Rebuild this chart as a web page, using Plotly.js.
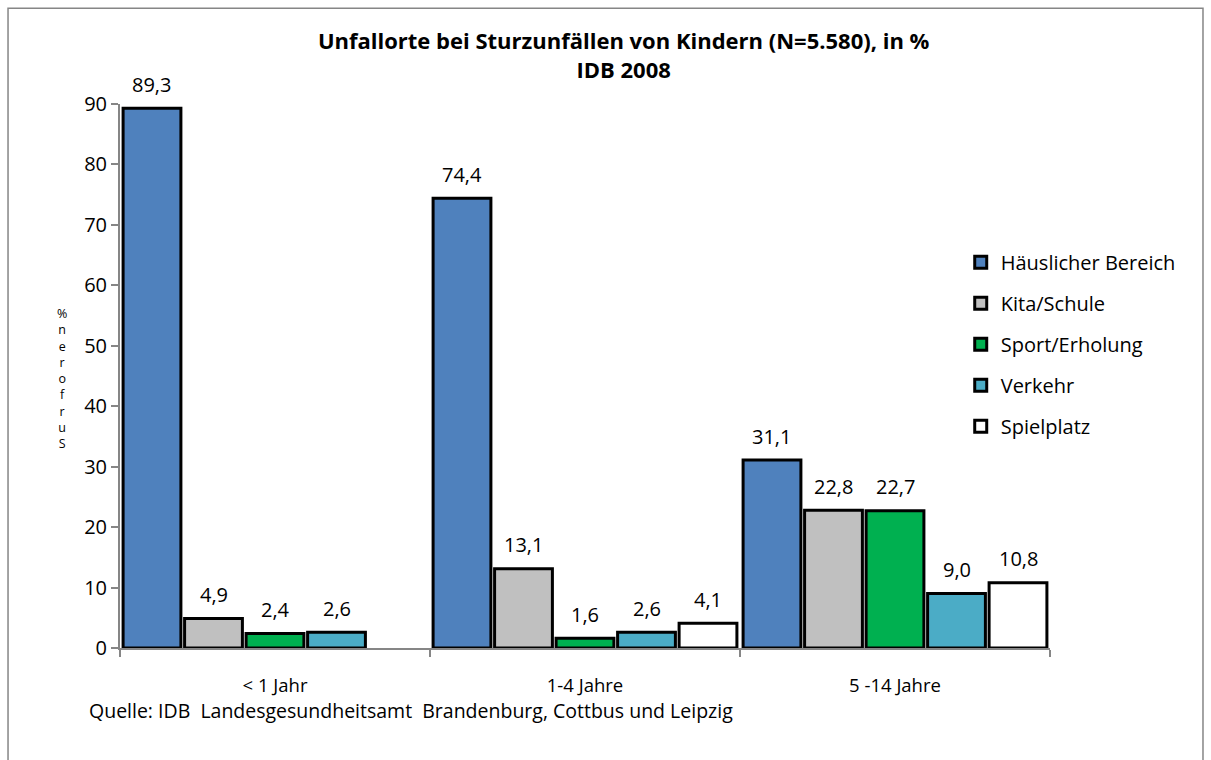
<!DOCTYPE html>
<html><head><meta charset="utf-8">
<script src="https://cdn.plot.ly/plotly-3.0.1.min.js"></script>
<style>body{margin:0;background:#fff}#c{width:1211px;height:760px}</style>
</head><body><div id="c"></div>
<script>
const categories = ['< 1 Jahr', '1-4 Jahre', '5 -14 Jahre'];
const seriesNames = ['Häuslicher Bereich', 'Kita/Schule', 'Sport/Erholung', 'Verkehr', 'Spielplatz'];
const haeuslich = [89.3, 74.4, 31.1];
const kita = [4.9, 13.1, 22.8];
const sport = [2.4, 1.6, 22.7];
const verkehr = [2.6, 2.6, 9.0];
const spielplatz = [null, 4.1, 10.8];
const yTitleLetters = ['%', 'n', 'e', 'r', 'o', 'f', 'r', 'u', 'S'];
const colors = ['#4f81bd', '#c0c0c0', '#00b050', '#4bacc6', '#ffffff'];
const values = [haeuslich, kita, sport, verkehr, spielplatz];
const fnt = '"Open Sans", "Liberation Sans", sans-serif';
const bargap = 0.008, bargroupgap = 0.06;

const traces = values.map((v, i) => ({
  type: 'bar', name: seriesNames[i], x: categories, y: v, legendgroup: 'g' + i,
  marker: {color: colors[i], line: {color: '#000', width: 3}},
  hoverinfo: 'none'
}));

// value labels placed above each bar, positioned via the category axis
const nS = values.length, slot = (1 - bargap) / nS;
const annotations = [];
values.forEach((v, i) => {
  v.forEach((d, j) => {
    if (d == null) return;
    annotations.push({x: j - (1 - bargap) / 2 + slot * (i + 0.5), y: d, xref: 'x', yref: 'y',
      text: d.toFixed(1).replace('.', ','), showarrow: false, yanchor: 'middle', yshift: 24,
      font: {size: 20, family: fnt, color: '#000'}});
  });
});
annotations.push({text: 'Quelle: IDB  Landesgesundheitsamt  Brandenburg, Cottbus und Leipzig', xref: 'paper', yref: 'paper',
  x: -0.035, y: -0.114, xanchor: 'left', yanchor: 'middle', showarrow: false,
  font: {size: 19.5, family: fnt}});
annotations.push({text: yTitleLetters.join('<br>'), xref: 'paper', yref: 'paper', x: -0.062, y: (648 - 378) / 544,
  xanchor: 'center', yanchor: 'middle', showarrow: false, align: 'center', font: {size: 12.5, family: fnt}});

const layout = {
  width: 1211, height: 760,
  margin: {l: 120, r: 161, t: 104, b: 112},
  paper_bgcolor: '#fff', plot_bgcolor: '#fff',
  font: {family: fnt, color: '#000'},
  barmode: 'group', bargap: bargap, bargroupgap: bargroupgap,
  title: {text: '<b>Unfallorte bei Sturzunfällen von Kindern (N=5.580), in %<br>IDB 2008</b>',
    font: {size: 22, family: fnt}, x: 0.515, xanchor: 'center', y: 0.935, yanchor: 'top'},
  xaxis: {type: 'category', range: [-0.5, 2.5], showline: true, linecolor: '#868686', linewidth: 2,
    ticks: 'outside', ticklen: 7, tickcolor: '#868686', tickwidth: 2,
    tickson: 'boundaries', tickfont: {size: 18.5, family: fnt}, ticklabelstandoff: 20, showgrid: false},
  yaxis: {range: [0, 90], dtick: 10, showline: true, linecolor: '#868686', linewidth: 2,
    ticks: 'outside', ticklen: 7, tickcolor: '#868686', tickwidth: 2,
    tickfont: {size: 20, family: fnt}, showgrid: false, zeroline: false},
  legend: {x: 0.904, y: 0.745, xanchor: 'left', yanchor: 'top',
    font: {size: 20, family: fnt}, tracegroupgap: 12, itemwidth: 30,
    bgcolor: 'rgba(0,0,0,0)'},
  showlegend: true,
  shapes: [{type: 'rect', xref: 'paper', yref: 'paper',
    x0: -0.1204, x1: 1.1645, y0: -0.25, y1: 1.176,
    line: {color: '#868686', width: 1.5}, fillcolor: 'rgba(0,0,0,0)', layer: 'below'}],
  annotations: annotations
};
Plotly.newPlot('c', traces, layout, {displayModeBar: false});
</script></body></html>
